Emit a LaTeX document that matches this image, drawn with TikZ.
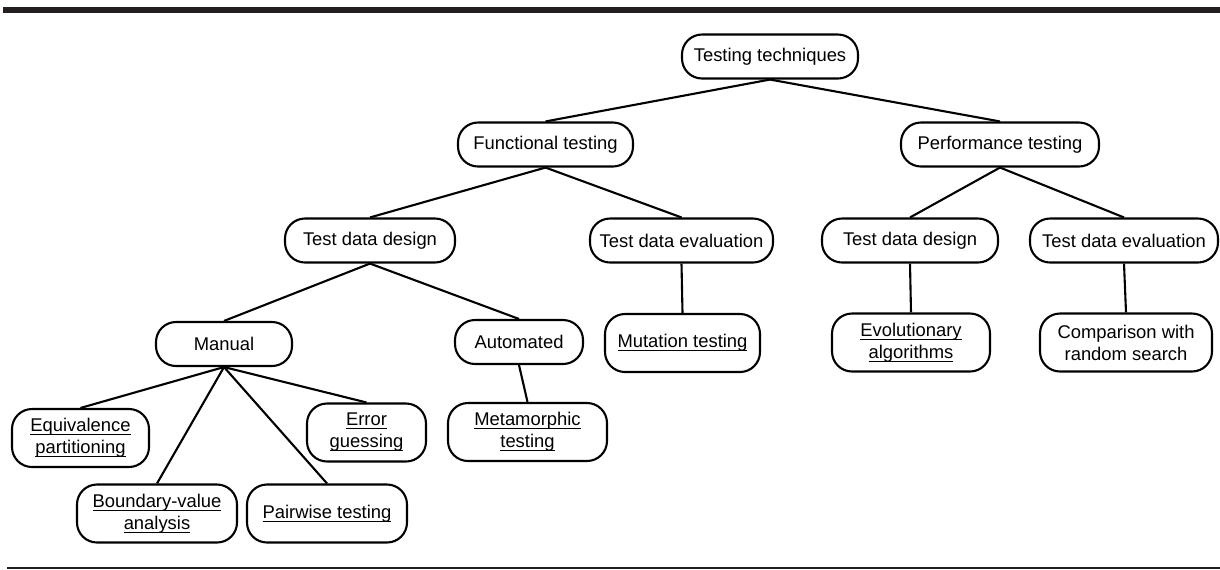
\documentclass[tikz,border=0pt]{standalone}
\usepackage{fontspec}
\setmainfont{Liberation Sans}
\usepackage{tikz}
\usetikzlibrary{positioning}
\definecolor{rulegray}{HTML}{231F20}

% underline that ignores descenders
\newcommand{\lined}[1]{\underline{\raisebox{0pt}[\height][0pt]{#1}}}

\begin{document}
\begin{tikzpicture}[
  x=0.5pt, y=-0.5pt,
  tech/.style={
    rectangle, rounded corners=10pt, draw=black, line width=1.05pt,
    minimum height=22pt, inner sep=2pt,
    font=\fontsize{9.2}{11}\selectfont, align=center
  },
  leaf/.style={tech, minimum height=29pt},
  edge/.style={line width=1.05pt},
]
\useasboundingbox (0,0) rectangle (1220,569);

% Rules
\fill[rulegray] (3,7) rectangle (1220,13.3);
\draw[rulegray, line width=1.15pt] (7,568) -- (1220,568);

% Top levels
\node[tech, minimum width=88pt] (root) at (770,56.5) {Testing techniques};
\node[tech, minimum width=87.5pt] (func) at (545.5,144.5) {Functional testing};
\node[tech, minimum width=99pt] (perf) at (1000,144.5) {Performance testing};

% Test data nodes
\node[tech, minimum width=85pt] (fdesign) at (370,240.5) {Test data design};
\node[tech, minimum width=91.5pt] (feval) at (681.5,240.5) {Test data evaluation};
\node[tech, minimum width=88pt] (pdesign) at (910,240.5) {Test data design};
\node[tech, minimum width=94pt] (peval) at (1124,240.5) {Test data evaluation};

% Third level
\node[tech, minimum width=68pt] (manual) at (224,344) {Manual};
\node[tech, minimum width=64pt] (auto) at (519,342) {Automated};
\node[leaf, minimum width=77.5pt] (mutation) at (682.5,343) {\lined{Mutation testing}};
\node[leaf, minimum width=79pt] (evol) at (911,342.5) {\lined{Evolutionary}\\\lined{algorithms}};
\node[leaf, minimum width=86pt] (compare) at (1126,342.5) {Comparison with\\random search};

% Manual and automated techniques
\node[leaf, minimum width=68.5pt] (equiv) at (80.5,438) {\lined{Equivalence}\\\lined{partitioning}};
\node[leaf, minimum width=59.5pt] (error) at (366.5,432.5) {\lined{Error}\\\lined{guessing}};
\node[leaf, minimum width=79.5pt] (meta) at (527.5,432) {\lined{Metamorphic}\\\lined{testing}};
\node[leaf, minimum width=80pt] (boundary) at (157,513.5) {\lined{Boundary-value}\\\lined{analysis}};
\node[leaf, minimum width=80pt] (pairwise) at (327,513.5) {\lined{Pairwise testing}};

% Edges
\draw[edge] (root.south) -- (func.north);
\draw[edge] (root.south) -- (perf.north);
\draw[edge] (func.south) -- (fdesign.north);
\draw[edge] (func.south) -- (feval.north);
\draw[edge] (perf.south) -- (pdesign.north);
\draw[edge] (perf.south) -- (peval.north);
\draw[edge] (fdesign.south) -- (manual.north);
\draw[edge] (fdesign.south) -- (auto.north);
\draw[edge] (feval.south) -- (mutation.north);
\draw[edge] (pdesign.south) -- (evol.north);
\draw[edge] (peval.south) -- (compare.north);
\draw[edge] (manual.south) -- (equiv.north);
\draw[edge] (manual.south) -- (boundary.north);
\draw[edge] (manual.south) -- (pairwise.north);
\draw[edge] (manual.south) -- (error.north);
\draw[edge] (auto.south) -- (meta.north);
\end{tikzpicture}
\end{document}
